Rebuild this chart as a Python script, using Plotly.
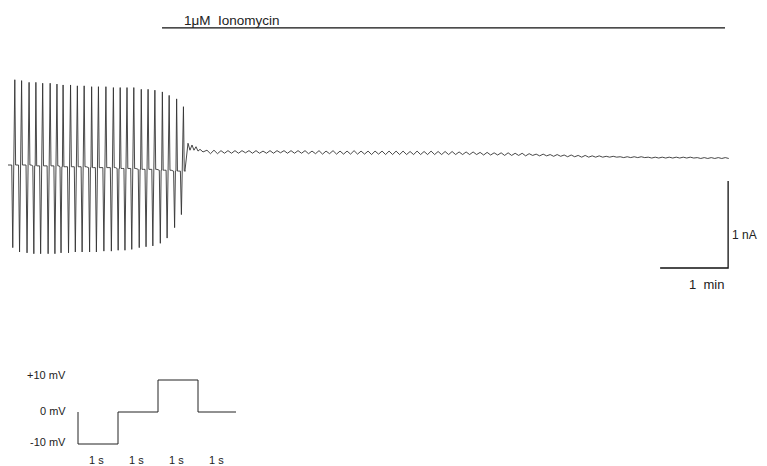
import plotly.graph_objects as go

# ---------------- data (current trace, nA vs min) ----------------
# pre-ionomycin cycles: time of each upward transient (min)
cycle_time_min = [0.10, 0.20, 0.31, 0.41, 0.51, 0.62, 0.72, 0.81, 0.92, 1.02,
                  1.12, 1.23, 1.33, 1.44, 1.55, 1.65, 1.75, 1.85, 1.96, 2.06,
                  2.16, 2.27, 2.37, 2.48, 2.58]
cycle_up_nA = [0.98, 0.97, 0.95, 0.95, 0.94, 0.94, 0.93, 0.92, 0.92, 0.91,
               0.91, 0.90, 0.90, 0.90, 0.89, 0.89, 0.89, 0.89, 0.87, 0.87,
               0.86, 0.84, 0.80, 0.76, 0.67]
cycle_down_nA = [-0.95, -1.00, -1.01, -1.02, -1.02, -1.02, -1.02, -1.01, -1.01, -1.00,
                 -1.00, -1.00, -1.00, -0.99, -0.99, -0.98, -0.98, -0.97, -0.95, -0.94,
                 -0.93, -0.90, -0.84, -0.72, -0.57]
cycle_base_nA = [0.00, 0.00, 0.00, -0.01, -0.01, -0.01, -0.01, -0.02, -0.02, -0.02,
                 -0.02, -0.03, -0.03, -0.03, -0.03, -0.04, -0.04, -0.04, -0.05, -0.05,
                 -0.05, -0.06, -0.06, -0.07, -0.07]

# transition right after ionomycin block
transition_time_min = [2.603, 2.647, 2.676, 2.706, 2.735, 2.765, 2.794, 2.824, 2.868, 2.912]
transition_nA = [-0.06, 0.25, 0.17, 0.23, 0.17, 0.21, 0.16, 0.18, 0.15, 0.17]

# post-ionomycin small oscillations (one peak/trough per protocol cycle)
post_start_min = 2.926
protocol_period_min = 0.103
post_peak_nA = [0.17, 0.17, 0.165, 0.165, 0.165, 0.165, 0.165, 0.165, 0.16, 0.165,
                0.165, 0.165, 0.165, 0.165, 0.165, 0.16, 0.165, 0.16, 0.165, 0.16,
                0.16, 0.165, 0.16, 0.16, 0.16, 0.16, 0.16, 0.16, 0.16, 0.155,
                0.16, 0.155, 0.16, 0.155, 0.155, 0.155, 0.15, 0.15, 0.15, 0.145,
                0.145, 0.14, 0.14, 0.14, 0.135, 0.135, 0.13, 0.125, 0.125, 0.12,
                0.12, 0.115, 0.115, 0.11, 0.11, 0.105, 0.105, 0.10, 0.10, 0.095,
                0.095, 0.095, 0.095, 0.09, 0.09, 0.09, 0.09, 0.09, 0.09, 0.09,
                0.085, 0.085, 0.085, 0.085, 0.085]
post_trough_nA = [0.13, 0.13, 0.135, 0.135, 0.135, 0.14, 0.135, 0.135, 0.135, 0.135,
                  0.14, 0.135, 0.135, 0.135, 0.13, 0.13, 0.125, 0.13, 0.125, 0.125,
                  0.125, 0.125, 0.125, 0.12, 0.125, 0.12, 0.12, 0.12, 0.12, 0.12,
                  0.12, 0.12, 0.12, 0.12, 0.12, 0.12, 0.12, 0.12, 0.12, 0.115,
                  0.115, 0.115, 0.11, 0.11, 0.11, 0.105, 0.11, 0.105, 0.105, 0.10,
                  0.10, 0.095, 0.095, 0.09, 0.09, 0.09, 0.09, 0.09, 0.09, 0.085,
                  0.085, 0.085, 0.085, 0.08, 0.08, 0.08, 0.08, 0.08, 0.08, 0.08,
                  0.075, 0.075, 0.075, 0.075, 0.075]

# ionomycin application bar (min)
ionomycin_start_min = 2.265
ionomycin_end_min = 10.544
ionomycin_label = "1\u03bcM  Ionomycin"

# scale bars
scale_bar_time_min = 1.0
scale_bar_current_nA = 1.0
scale_bar_time_label = "1  min"
scale_bar_current_label = "1 nA"

# voltage protocol
protocol_time_s = [0, 0, 1, 1, 2, 2, 3, 3, 3.95]
protocol_mV = [0, -10, -10, 0, 0, 10, 10, 0, 0]
protocol_level_labels = ["+10 mV", "0 mV", "-10 mV"]
protocol_level_values = [10, 0, -10]
protocol_step_labels = ["1 s", "1 s", "1 s", "1 s"]
protocol_step_centers_s = [0.5, 1.5, 2.5, 3.5]

# ---------------- build the trace ----------------
tx, ty = [-0.03], [0.0]
for t, up, dn, b in zip(cycle_time_min, cycle_up_nA, cycle_down_nA, cycle_base_nA):
    tx += [t - 0.045, t - 0.03, t - 0.018, t - 0.01, t, t + 0.012, t + 0.03]
    ty += [b, dn, b, b, up, b, b]
tx += transition_time_min
ty += transition_nA
for k, (p, q) in enumerate(zip(post_peak_nA, post_trough_nA)):
    t = post_start_min + k * protocol_period_min
    tx += [t, t + protocol_period_min / 2]
    ty += [p, q]

ink = "#222222"
font_fam = "Liberation Sans, Arial"
fig = go.Figure()
fig.add_trace(go.Scatter(x=tx, y=ty, mode="lines", line=dict(color="#333333", width=0.9),
                         hoverinfo="skip", showlegend=False))

# ionomycin bar
bar_y = 1.575
fig.add_trace(go.Scatter(x=[ionomycin_start_min, ionomycin_end_min], y=[bar_y, bar_y],
                         mode="lines", line=dict(color="#111", width=1.3),
                         showlegend=False, hoverinfo="skip"))
fig.add_annotation(x=ionomycin_start_min + 0.29, y=bar_y + 0.09, text=ionomycin_label,
                   showarrow=False, xanchor="left", yanchor="middle",
                   font=dict(family=font_fam, size=13.5, color=ink))

# scale bars
sb_x = 10.59
sb_top = -0.184
sb_bot = sb_top - scale_bar_current_nA
fig.add_trace(go.Scatter(x=[sb_x - scale_bar_time_min, sb_x, sb_x], y=[sb_bot, sb_bot, sb_top],
                         mode="lines", line=dict(color="#111", width=1.3),
                         showlegend=False, hoverinfo="skip"))
fig.add_annotation(x=sb_x + 0.03, y=sb_top - 0.62, text=scale_bar_current_label,
                   showarrow=False, xanchor="left", yanchor="middle",
                   font=dict(family=font_fam, size=12, color=ink))
fig.add_annotation(x=sb_x - scale_bar_time_min / 2 + 0.18, y=sb_bot - 0.185,
                   text=scale_bar_time_label, showarrow=False,
                   xanchor="center", yanchor="middle",
                   font=dict(family=font_fam, size=13, color=ink))

# voltage protocol on second (overlaid) axes
fig.add_trace(go.Scatter(x=protocol_time_s, y=protocol_mV, xaxis="x2", yaxis="y2",
                         mode="lines", line=dict(color=ink, width=1),
                         showlegend=False, hoverinfo="skip"))
level_label_offsets = [1.56, 0.3, 0.6]
for lab, v, off in zip(protocol_level_labels, protocol_level_values, level_label_offsets):
    fig.add_annotation(x=-0.25, y=v + off, xref="x2", yref="y2", text=lab, showarrow=False,
                       xanchor="right", yanchor="middle",
                       font=dict(family=font_fam, size=11, color=ink))
for lab, c in zip(protocol_step_labels, protocol_step_centers_s):
    fig.add_annotation(x=c - 0.04, y=-15.0, xref="x2", yref="y2", text=lab, showarrow=False,
                       xanchor="center", yanchor="middle",
                       font=dict(family=font_fam, size=11, color=ink))

# the page body adds an 8 px margin, so the figure is 8 px smaller on each side
W, H = 759, 458
hidden = dict(visible=False, showgrid=False, zeroline=False, fixedrange=True)
fig.update_layout(
    width=W, height=H,
    margin=dict(l=0, r=0, t=0, b=0),
    paper_bgcolor="white", plot_bgcolor="rgba(0,0,0,0)",
    xaxis=dict(range=[0, W / 68], domain=[0, 1], **hidden),
    yaxis=dict(range=[(157 - H) / 87, 157 / 87], domain=[0, 1], **hidden),
    xaxis2=dict(range=[-70 / 40, (W - 70) / 40], domain=[0, 1], anchor="y2",
                overlaying="x", **hidden),
    yaxis2=dict(range=[(404 - H) / 3.2, 404 / 3.2], domain=[0, 1], anchor="x2",
                overlaying="y", **hidden),
    showlegend=False,
)

fig.write_html("out.html")
